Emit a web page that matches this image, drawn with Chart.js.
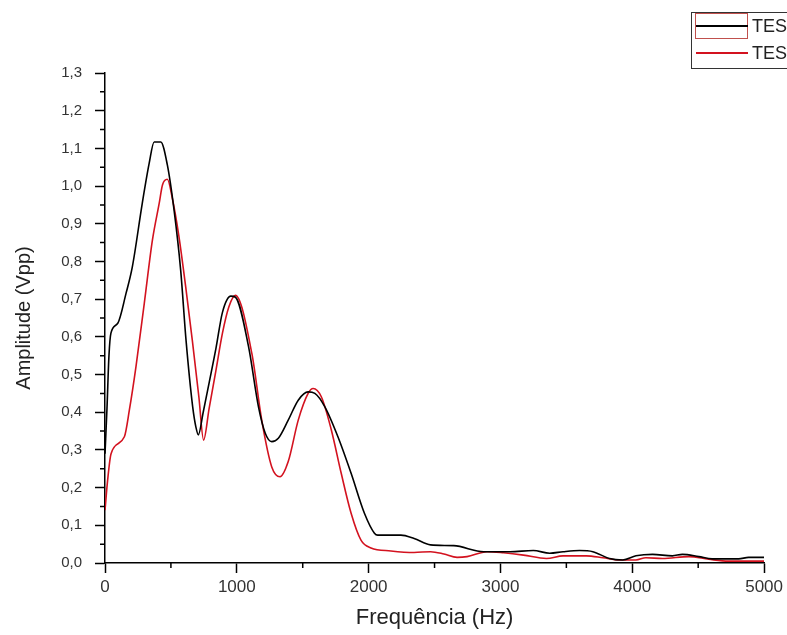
<!DOCTYPE html>
<html>
<head>
<meta charset="utf-8">
<script src="https://cdn.jsdelivr.net/npm/chart.js@4.4.1/dist/chart.umd.min.js"></script>
<style>
  html, body { margin: 0; padding: 0; background: #fff; }
  #wrap { width: 787px; height: 635px; position: relative; }
</style>
</head>
<body>
<div id="wrap"><canvas id="c"></canvas></div>
<script>
// TESTE 1 (black)
const freq1 = [0, 15, 30, 45, 97, 160, 207, 283, 335, 373, 423, 473, 524, 574, 615, 665, 690, 708, 745, 791, 842, 891, 955, 990, 1089, 1164, 1215, 1265, 1315, 1390, 1466, 1541, 1592, 1667, 1767, 1867, 1968, 2044, 2069, 2245, 2345, 2470, 2646, 2873, 3073, 3249, 3374, 3475, 3600, 3701, 3827, 3928, 4028, 4154, 4304, 4380, 4505, 4606, 4807, 4882, 5000];
const amp1 = [0.29, 0.41, 0.55, 0.61, 0.636, 0.716, 0.785, 0.955, 1.06, 1.117, 1.117, 1.056, 0.936, 0.777, 0.59, 0.415, 0.36, 0.34, 0.40, 0.48, 0.57, 0.665, 0.708, 0.705, 0.574, 0.415, 0.345, 0.322, 0.331, 0.379, 0.432, 0.454, 0.45, 0.415, 0.335, 0.238, 0.132, 0.079, 0.074, 0.074, 0.065, 0.048, 0.046, 0.030, 0.030, 0.033, 0.026, 0.030, 0.033, 0.030, 0.012, 0.008, 0.019, 0.023, 0.019, 0.023, 0.017, 0.011, 0.011, 0.015, 0.015];

// TESTE 2 (red)
const freq2 = [0, 20, 46, 147, 185, 235, 298, 360, 411, 436, 473, 511, 561, 612, 662, 712, 748, 790, 841, 891, 940, 989, 1114, 1189, 1265, 1328, 1390, 1466, 1541, 1579, 1641, 1717, 1792, 1867, 1943, 2018, 2169, 2345, 2470, 2571, 2671, 2747, 2898, 3023, 3174, 3349, 3475, 3651, 3777, 3902, 4028, 4103, 4229, 4430, 4580, 4731, 5000];
const amp2 = [0.14, 0.22, 0.29, 0.335, 0.406, 0.521, 0.689, 0.857, 0.954, 1.003, 1.018, 0.967, 0.866, 0.733, 0.592, 0.441, 0.326, 0.41, 0.51, 0.61, 0.68, 0.71, 0.556, 0.379, 0.255, 0.229, 0.269, 0.379, 0.45, 0.463, 0.441, 0.353, 0.238, 0.132, 0.06, 0.04, 0.032, 0.028, 0.030, 0.024, 0.015, 0.017, 0.030, 0.027, 0.021, 0.012, 0.019, 0.019, 0.014, 0.008, 0.008, 0.014, 0.012, 0.017, 0.010, 0.005, 0.005];

const seriesNames = ['TESTE 1', 'TESTE 2'];
const seriesColors = ['#000000', '#d3121f'];

const xTicks = [0, 1000, 2000, 3000, 4000, 5000];
const yMax = 1.3;

const FONT = '"Liberation Sans", Arial, sans-serif';
const toPts = (xs, ys) => xs.map((x, i) => ({ x: x, y: ys[i] }));

// minor ticks + boxed legend (legend is partly cut off at the right edge)
const extras = {
  id: 'extras',
  afterDraw(chart) {
    const ctx = chart.ctx;
    const xs = chart.scales.x, ys = chart.scales.y;
    ctx.save();
    ctx.strokeStyle = '#000';
    ctx.lineWidth = 1.5;
    ctx.beginPath();
    for (let v = 500; v < 5000; v += 1000) {
      const px = xs.getPixelForValue(v);
      ctx.moveTo(px, xs.top);
      ctx.lineTo(px, xs.top + 5);
    }
    for (let i = 0; i < 13; i++) {
      const py = ys.getPixelForValue(i * 0.1 + 0.05);
      ctx.moveTo(ys.right, py);
      ctx.lineTo(ys.right - 5, py);
    }
    ctx.stroke();

    // legend box
    ctx.strokeStyle = '#333';
    ctx.lineWidth = 1;
    ctx.strokeRect(691.5, 12.5, 120, 56);
    ctx.strokeStyle = '#c0504d';
    ctx.strokeRect(695.5, 13.5, 52, 25);
    ctx.font = '18px ' + FONT;
    ctx.textBaseline = 'middle';
    seriesNames.forEach((name, i) => {
      const y = 26 + i * 27;
      ctx.strokeStyle = seriesColors[i];
      ctx.lineWidth = 2;
      ctx.beginPath();
      ctx.moveTo(696, y);
      ctx.lineTo(748, y);
      ctx.stroke();
      ctx.fillStyle = '#222';
      ctx.fillText(name, 752, y + 1);
    });
    ctx.restore();
  }
};

new Chart(document.getElementById('c'), {
  type: 'line',
  data: {
    datasets: [
      { label: seriesNames[0], data: toPts(freq1, amp1), borderColor: seriesColors[0], borderWidth: 1.6, pointRadius: 0, cubicInterpolationMode: 'monotone' },
      { label: seriesNames[1], data: toPts(freq2, amp2), borderColor: seriesColors[1], borderWidth: 1.6, pointRadius: 0, cubicInterpolationMode: 'monotone' }
    ]
  },
  options: {
    responsive: true,
    maintainAspectRatio: false,
    animation: false,
    layout: { padding: { top: 73, right: 22, left: 0, bottom: 0 } },
    plugins: { legend: { display: false }, tooltip: { enabled: false } },
    scales: {
      x: {
        type: 'linear',
        min: 0, max: 5000,
        afterBuildTicks: (s) => { s.ticks = xTicks.map(v => ({ value: v })); },
        afterFit: (s) => { s.height = 72; },
        grid: { drawOnChartArea: false, color: '#000', tickLength: 10, tickWidth: 1.5 },
        border: { color: '#000', width: 1.5 },
        ticks: { color: '#333', padding: 4, font: { family: FONT, size: 17 }, callback: (v) => String(v) },
        title: { display: true, text: 'Frequência (Hz)', color: '#222', padding: { top: 0, bottom: 4 }, font: { family: FONT, size: 22 } }
      },
      y: {
        min: 0, max: yMax,
        ticks: { stepSize: 0.1, color: '#333', padding: 13, font: { family: FONT, size: 15 },
          callback: (v) => v.toFixed(1).replace('.', ',') },
        afterFit: (s) => { s.width = 105; },
        grid: { drawOnChartArea: false, color: '#000', tickLength: 10, tickWidth: 1.5 },
        border: { color: '#000', width: 1.5 },
        title: { display: true, text: 'Amplitude (Vpp)', color: '#222', padding: { top: 12, bottom: 0 }, font: { family: FONT, size: 20 } }
      }
    }
  },
  plugins: [extras]
});
</script>
</body>
</html>
